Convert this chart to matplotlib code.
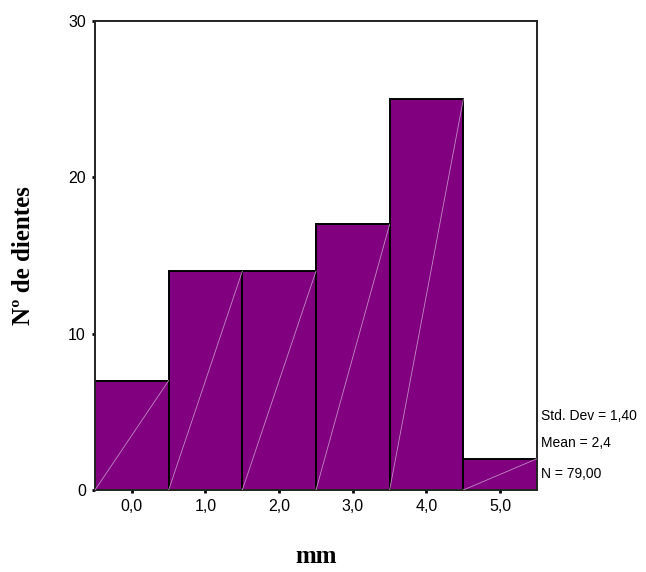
import matplotlib
matplotlib.use("Agg")
import matplotlib.pyplot as plt
import numpy as np

# histogram of tooth measurements (mm)
bin_centers = [0, 1, 2, 3, 4, 5]
counts = [7, 14, 14, 17, 25, 2]
tick_labels = ["0,0", "1,0", "2,0", "3,0", "4,0", "5,0"]
y_ticks = [0, 10, 20, 30]
stats_lines = ["Std. Dev = 1,40", "Mean = 2,4", "N = 79,00"]

bar_color = "#800080"
diag_color = "#c58ac5"

fig = plt.figure(figsize=(6.46, 5.72), dpi=100)
ax = fig.add_axes([95 / 646, 1 - 490 / 572, (537 - 95) / 646, (490 - 21) / 572])

ax.bar(bin_centers, counts, width=1.0, color=bar_color, edgecolor="black",
       linewidth=1.4, zorder=2)

# thin diagonal streaks inside each bar (SPSS style)
for c, h in zip(bin_centers, counts):
    ax.plot([c - 0.5, c + 0.5], [0, h], color=diag_color, lw=0.6, zorder=3)

ax.set_xlim(-0.5, 5.5)
ax.set_ylim(0, 30)
ax.set_xticks(bin_centers)
ax.set_xticklabels(tick_labels)
ax.set_yticks(y_ticks)

for s in ax.spines.values():
    s.set_linewidth(1.4)
    s.set_color("#222222")

ax.tick_params(direction="out", length=2.5, width=2, pad=4,
               labelsize=11.5, colors="black")
for lab in ax.get_xticklabels() + ax.get_yticklabels():
    lab.set_family("Liberation Sans")

ax.set_ylabel("Nº de dientes", family="Liberation Serif", weight="bold",
              fontsize=18, labelpad=24)
ax.set_xlabel("mm", family="Liberation Serif", weight="bold",
              fontsize=18, labelpad=22)

ys = [416, 443, 474]
for txt, y in zip(stats_lines, ys):
    fig.text(541 / 646, 1 - y / 572, txt, family="Liberation Sans",
             fontsize=10, va="center", ha="left")

fig.savefig("out.png", dpi=100)
